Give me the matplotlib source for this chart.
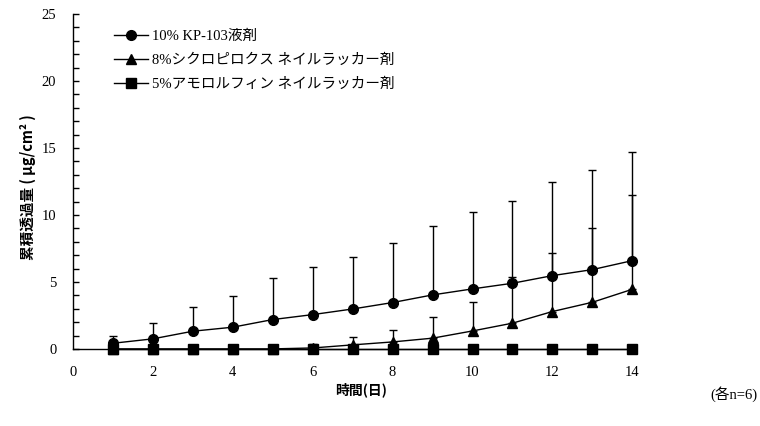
import numpy as np
from matplotlib import pyplot as plt
from matplotlib.lines import Line2D
from matplotlib.ticker import MultipleLocator

plt.rcParams["font.family"] = ["Liberation Serif", "Noto Sans CJK JP"]

days = list(range(1, 15))

# 累積透過量 (μg/cm²) 平均値と標準偏差
kp103_mean = [0.42, 0.75, 1.32, 1.62, 2.19, 2.56, 2.98, 3.46, 4.03, 4.48, 4.90, 5.47, 5.92, 6.59]
kp103_sd = [0.58, 1.21, 1.84, 2.36, 3.08, 3.54, 3.89, 4.43, 5.15, 5.77, 6.14, 7.02, 7.44, 8.13]
ciclo_mean = [0.0, 0.0, 0.0, 0.0, 0.0, 0.07, 0.30, 0.52, 0.80, 1.34, 1.92, 2.79, 3.48, 4.45]
ciclo_sd = [0.0, 0.0, 0.0, 0.0, 0.0, 0.30, 0.62, 0.90, 1.57, 2.14, 3.43, 4.40, 5.52, 7.05]
amorol_mean = [0.0] * 14

labels = ["10% KP-103液剤", "8%シクロピロクス ネイルラッカー剤", "5%アモロルフィン ネイルラッカー剤"]
markers = ["o", "^", "s"]
msizes = [7, 7.5, 6.5]

fig = plt.figure(figsize=(7.6, 4.26), dpi=100)
ax = fig.add_axes([0.096, 0.181, 0.736, 0.786])

zeros = np.zeros(len(days))
common = dict(color="black", linewidth=1.0, ecolor="black", elinewidth=1.0,
              capsize=3.2, capthick=1.0, clip_on=False)
ax.errorbar(days, kp103_mean, yerr=[zeros, kp103_sd], marker=markers[0],
            markersize=msizes[0], **common)
ax.errorbar(days, ciclo_mean, yerr=[zeros, ciclo_sd], marker=markers[1],
            markersize=msizes[1], **common)
ax.plot(days, amorol_mean, color="black", linewidth=1.0, marker=markers[2],
        markersize=msizes[2], clip_on=False)

ax.set_xlim(0, 14)
ax.set_ylim(0, 25)
ax.xaxis.set_major_locator(MultipleLocator(2))
ax.yaxis.set_major_locator(MultipleLocator(5))
ax.yaxis.set_minor_locator(MultipleLocator(1))
ax.tick_params(axis="y", which="both", direction="in", length=4, width=1,
               labelsize=10.5, pad=12)
ax.tick_params(axis="x", length=0, labelsize=10.5, pad=12)

for side in ("top", "right"):
    ax.spines[side].set_visible(False)
for side in ("left", "bottom"):
    ax.spines[side].set_linewidth(1.0)

# 凡例は誤差棒なしの線+マーカーで表示
handles = [Line2D([], [], color="black", linewidth=1.0, marker=m, markersize=s)
           for m, s in zip(markers, msizes)]
ax.legend(handles, labels, loc="upper left", bbox_to_anchor=(0.063, 0.97),
          frameon=False, fontsize=10.5, handlelength=2.3, handletextpad=0.3,
          labelspacing=0.72, borderaxespad=0)

fig.text(0.475, 0.085, "時間(日)", family=["Noto Sans CJK JP"],
         fontsize=10, fontweight="bold", ha="center", va="center")
fig.text(0.037, 0.56, "累積透過量 ( μg/cm² )",
         family=["Noto Sans CJK JP", "DejaVu Sans"], fontsize=10.5,
         fontweight="bold", rotation=90, ha="center", va="center")
fig.text(0.997, 0.075, "(各n=6)", family=["Liberation Serif", "Noto Sans CJK JP"],
         fontsize=10.5, ha="right", va="center")

fig.savefig("out.png", dpi=100)
